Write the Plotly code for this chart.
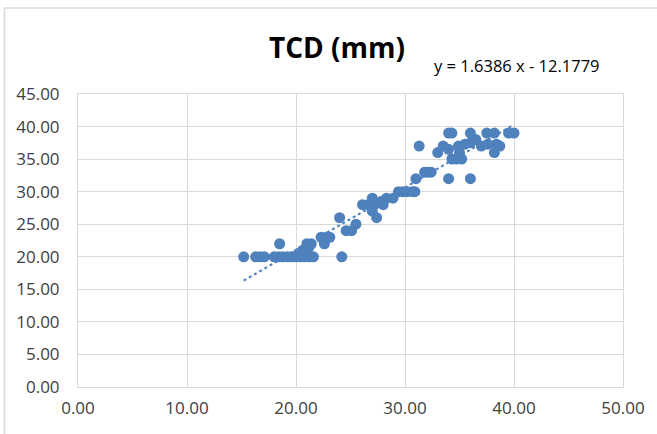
import numpy as np
import plotly.graph_objects as go

# --- data ---
x_vals = [15.2, 16.3, 16.7, 17.1, 18.0, 18.4, 18.8, 19.2, 19.6, 20.0, 20.4, 20.8, 21.2, 21.6,
          18.5, 20.2, 20.6, 21.0, 21.2, 21.4, 21.0,
          22.3, 22.6, 22.8, 23.1,
          24.0, 24.2, 24.6, 25.1, 25.5,
          26.1, 26.6, 27.0, 27.0, 27.2, 27.4, 27.8, 28.0, 28.3, 28.9,
          29.4, 29.8, 30.2, 30.7, 30.9, 31.0, 31.3,
          31.8, 32.1, 32.4,
          33.0, 33.5, 34.0, 34.0, 34.3, 34.0, 34.3, 34.7, 34.9, 35.5, 36.0, 36.5,
          36.0, 36.0, 37.0, 37.5, 37.6, 38.2, 38.4, 38.2, 38.7, 39.5, 40.0, 35.0, 35.2]
y_vals = [20, 20, 20, 20, 20, 20, 20, 20, 20, 20, 20, 20, 20, 20,
          22, 20.5, 21, 21, 21.5, 22, 22,
          23, 22, 23, 23,
          26, 20, 24, 24, 25,
          28, 28, 29, 27, 28, 26, 28.5, 28, 29, 29,
          30, 30, 30, 30, 30, 32, 37,
          33, 33, 33,
          36, 37, 36.5, 39, 39, 32, 35, 35, 37, 37.3, 37.5, 38,
          39, 32, 37, 39, 37.3, 39, 37.3, 36, 37, 39, 39, 36, 35]

title_text = "TCD (mm)"
equation_text = "y = 1.6386 x - 12.1779"

x_ticks = [0, 10, 20, 30, 40, 50]
y_ticks = [0, 5, 10, 15, 20, 25, 30, 35, 40, 45]

blue = "#4F81BD"
grid = "#D9D9D9"
font_family = "Open Sans"

# linear trendline fitted from the data
coef = np.polyfit(x_vals, y_vals, 1)
tx = np.array([min(x_vals), max(x_vals)])
ty = np.polyval(coef, tx)

fig = go.Figure()
fig.add_trace(go.Scatter(
    x=x_vals, y=y_vals, mode="markers",
    marker=dict(size=11, color=blue, line=dict(width=0)),
    showlegend=False, hoverinfo="x+y"))
fig.add_trace(go.Scatter(
    x=tx, y=ty, mode="lines",
    line=dict(color=blue, width=2.2, dash="dot"),
    showlegend=False, hoverinfo="skip"))

axis_common = dict(
    showgrid=True, gridcolor=grid, gridwidth=1,
    zeroline=False, showline=True, linecolor=grid, linewidth=1, mirror=True,
    tickformat=".2f", ticks="",
    tickfont=dict(family=font_family, size=17, color="#404040"),
)

fig.update_xaxes(range=[0, 50], tickvals=x_ticks, ticklabelstandoff=6, **axis_common)
fig.update_yaxes(range=[0, 45], tickvals=y_ticks, ticklabelstandoff=14, **axis_common)

fig.update_layout(
    width=657, height=434,
    margin=dict(l=78, r=31, t=94, b=47),
    paper_bgcolor="white", plot_bgcolor="white",
    showlegend=False,
    annotations=[
        dict(text="<b>" + title_text + "</b>", xref="paper", yref="paper",
             x=(338 - 78) / 548, y=(387 - 47) / 293, xanchor="center", yanchor="middle",
             showarrow=False, font=dict(family=font_family, size=28, color="#000000")),
        dict(text=equation_text, xref="paper", yref="paper",
             x=(519 - 78) / 548, y=(387 - 66) / 293, xanchor="center", yanchor="middle",
             showarrow=False, font=dict(family=font_family, size=16.5, color="#000000")),
    ],
    shapes=[
        dict(type="rect", xref="paper", yref="paper",
             x0=(4 - 78) / 548, x1=1.3, y0=-0.5, y1=(387 - 8) / 293,
             line=dict(color=grid, width=1.5), fillcolor="rgba(0,0,0,0)", layer="below"),
    ],
)

fig.write_html("out.html", config={"displayModeBar": False},
               post_script="document.body.style.margin='0px';document.body.style.overflow='hidden';")
